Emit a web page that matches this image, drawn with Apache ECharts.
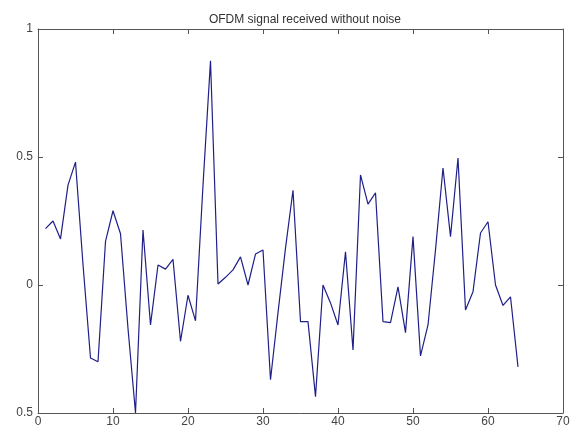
<!DOCTYPE html>
<html>
<head>
<meta charset="utf-8">
<script src="https://cdn.jsdelivr.net/npm/echarts@6/dist/echarts.min.js"></script>
<style>
  html, body { margin: 0; padding: 0; background: #fff; }
  #chart { width: 573px; height: 430px; }
</style>
</head>
<body>
<div id="chart"></div>
<script>
// sample index 1..64
const sampleIdx = [];
for (let i = 1; i <= 64; i++) sampleIdx.push(i);

// received signal values
const signalValues = [
  0.22, 0.25, 0.18, 0.39, 0.48, 0.08, -0.285, -0.30, 0.17, 0.29,
  0.20, -0.17, -0.50, 0.215, -0.156, 0.078, 0.062, 0.10, -0.22, -0.04,
  -0.14, 0.39, 0.876, 0.004, 0.03, 0.059, 0.11, 0.00, 0.121, 0.137,
  -0.37, -0.108, 0.144, 0.37, -0.143, -0.143, -0.436, 0.00, -0.07, -0.156,
  0.13, -0.254, 0.43, 0.316, 0.36, -0.143, -0.147, -0.007, -0.186, 0.189,
  -0.277, -0.156, 0.137, 0.457, 0.189, 0.496, -0.098, -0.026, 0.203, 0.247,
  0.00, -0.08, -0.046, -0.32
];

// y tick labels as printed in the figure
const yTickValues = [-0.5, 0, 0.5, 1];
const yTickLabels = ['0.5', '0', '0.5', '1'];

const chart = echarts.init(document.getElementById('chart'));

const axisColor = '#555';
const labelStyle = { color: '#444', fontSize: 12, fontFamily: 'Liberation Sans, Arial, sans-serif' };

const option = {
  backgroundColor: '#fff',
  animation: false,
  title: {
    text: 'OFDM signal received without noise',
    left: 300,
    textAlign: 'center',
    top: 9,
    textStyle: { fontSize: 12, fontWeight: 'normal', color: '#333', fontFamily: 'Liberation Sans, Arial, sans-serif' }
  },
  grid: { left: 38, right: 10, top: 29, bottom: 17 },
  xAxis: [
    {
      type: 'value', min: 0, max: 70, interval: 10,
      axisLine: { show: true, onZero: false, lineStyle: { color: axisColor, width: 1 } },
      axisTick: { show: true, inside: true, length: 5, lineStyle: { color: axisColor } },
      axisLabel: Object.assign({ margin: 3 }, labelStyle),
      splitLine: { show: false }
    },
    {
      type: 'value', min: 0, max: 70, interval: 10, position: 'top',
      axisLine: { show: true, onZero: false, lineStyle: { color: axisColor, width: 1 } },
      axisTick: { show: true, inside: true, length: 5, lineStyle: { color: axisColor } },
      axisLabel: { show: false },
      splitLine: { show: false }
    }
  ],
  yAxis: [
    {
      type: 'value', min: -0.5, max: 1, interval: 0.5,
      axisLine: { show: true, onZero: false, lineStyle: { color: axisColor, width: 1 } },
      axisTick: { show: true, inside: true, length: 5, lineStyle: { color: axisColor } },
      axisLabel: Object.assign({
        margin: 5,
        formatter: v => {
          const k = yTickValues.findIndex(t => Math.abs(t - v) < 1e-9);
          return k >= 0 ? yTickLabels[k] : '';
        }
      }, labelStyle),
      splitLine: { show: false }
    },
    {
      type: 'value', min: -0.5, max: 1, interval: 0.5, position: 'right',
      axisLine: { show: true, onZero: false, lineStyle: { color: axisColor, width: 1 } },
      axisTick: { show: true, inside: true, length: 5, lineStyle: { color: axisColor } },
      axisLabel: { show: false },
      splitLine: { show: false }
    }
  ],
  series: [
    {
      type: 'line',
      data: sampleIdx.map((x, i) => [x, signalValues[i]]),
      showSymbol: false,
      lineStyle: { color: '#1f1f88', width: 1.2 },
      itemStyle: { color: '#1f1f88' }
    }
  ]
};

chart.setOption(option);
</script>
</body>
</html>
